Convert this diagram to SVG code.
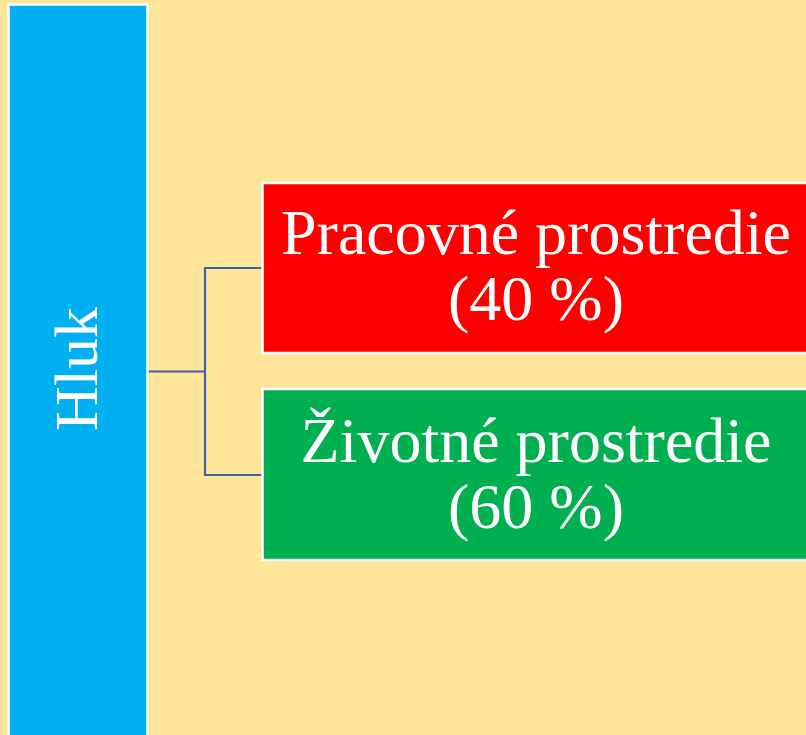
<svg xmlns="http://www.w3.org/2000/svg" width="806" height="735" viewBox="0 0 806 735">
<style>
.lbl{font-family:"Liberation Serif","Times New Roman",serif;fill:#FFFFFF;font-size:64px;text-anchor:middle}
.box{stroke:#FFFFFF;stroke-width:2.5}
.conn{fill:none;stroke:#3F63A8;stroke-width:2.2}
</style>
<rect x="0" y="0" width="806" height="735" fill="#FFE599"/>
<g id="connectors">
<path class="conn" d="M148 371.5 H205 M205 268 V475 M204 268 H262 M204 475 H262"/>
</g>
<g id="hluk">
<rect class="box" x="8.5" y="4.5" width="139" height="745" fill="#00B0F0"/>
<text class="lbl" style="font-size:62px" transform="translate(97,369) rotate(-90)">Hluk</text>
</g>
<g id="pracovne">
<rect class="box" x="262.5" y="183" width="560" height="170" fill="#FF0000"/>
<text class="lbl" x="536" y="254">Pracovné prostredie</text>
<text class="lbl" x="536" y="320">(40 %)</text>
</g>
<g id="zivotne">
<rect class="box" x="262.5" y="389" width="560" height="171" fill="#00B050"/>
<text class="lbl" x="536" y="462">Životné prostredie</text>
<text class="lbl" x="536" y="528">(60 %)</text>
</g>
</svg>
